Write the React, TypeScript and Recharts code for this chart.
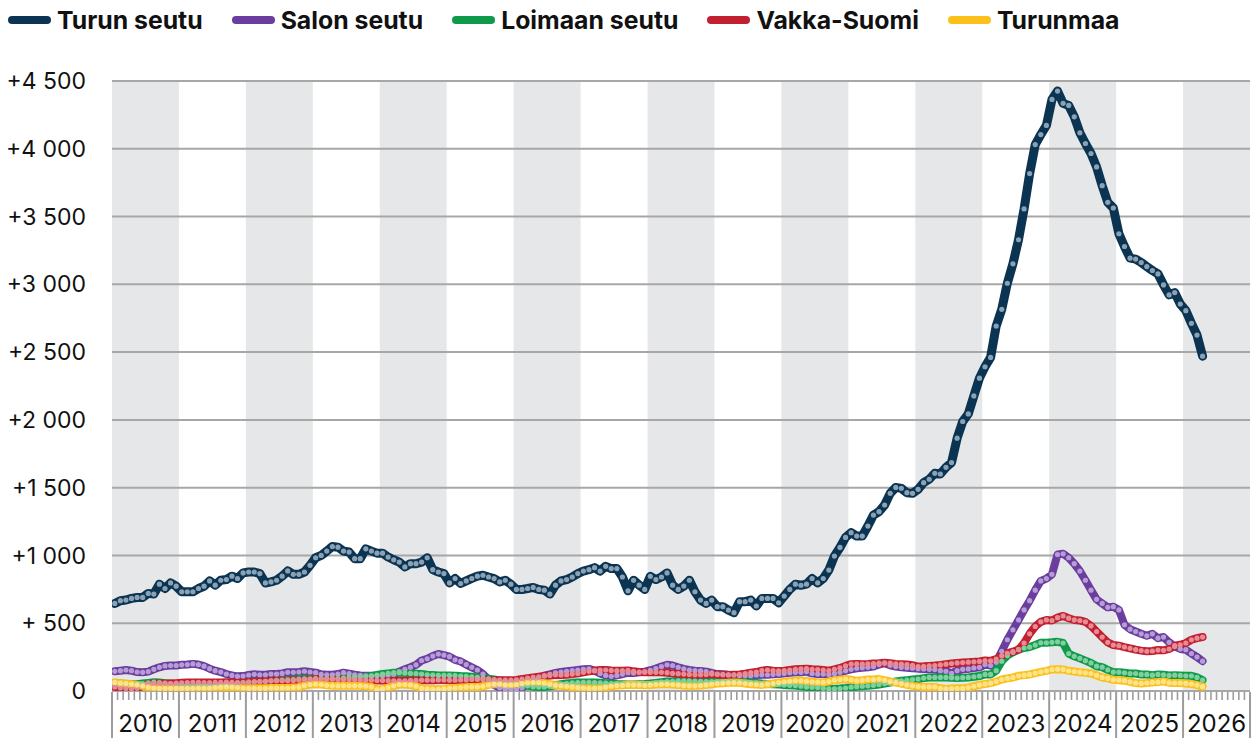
import { LineChart, Line, XAxis, YAxis, ReferenceArea, ReferenceLine } from "recharts";

// monthly values, Jan 2010 – Apr 2026
const turunSeutu = [
  646, 666, 671, 683, 690, 690, 720, 715, 788, 756, 797, 773,
  732, 732, 732, 756, 773, 812, 781, 817, 822, 847, 830, 871,
  878, 878, 866, 797, 805, 817, 847, 886, 861, 861, 878, 927,
  983, 1000, 1032, 1066, 1061, 1032, 1025, 976, 976, 1049, 1032, 1017,
  1017, 988, 968, 951, 915, 939, 939, 951, 983, 895, 878, 866,
  797, 830, 793, 812, 830, 847, 854, 841, 829, 805, 817, 788,
  749, 749, 756, 764, 749, 744, 715, 781, 812, 822, 841, 866,
  885, 895, 910, 885, 920, 903, 903, 841, 739, 817, 781, 749,
  846, 822, 841, 871, 781, 749, 774, 817, 732, 671, 646, 671,
  622, 622, 597, 578, 659, 659, 671, 627, 683, 683, 683, 651,
  700, 749, 788, 780, 788, 830, 798, 830, 892, 995, 1059, 1133,
  1168, 1143, 1143, 1217, 1298, 1323, 1372, 1458, 1502, 1495, 1463, 1458,
  1488, 1537, 1562, 1606, 1601, 1650, 1685, 1865, 1988, 2044, 2177, 2308,
  2392, 2461, 2692, 2816, 3008, 3151, 3329, 3556, 3817, 4031, 4105, 4172,
  4364, 4426, 4335, 4320, 4236, 4118, 4039, 3965, 3866, 3728, 3605, 3563,
  3373, 3279, 3193, 3186, 3161, 3131, 3102, 3077, 2996, 2922, 2939, 2855,
  2806, 2712, 2626, 2470,
];

const salonSeutu = [
  145, 150, 155, 150, 140, 138, 143, 160, 175, 185, 188, 188,
  193, 195, 200, 195, 183, 165, 150, 140, 125, 115, 108, 110,
  118, 123, 120, 120, 125, 125, 130, 138, 138, 140, 145, 140,
  135, 123, 120, 120, 125, 135, 128, 120, 115, 112, 112, 112,
  112, 118, 123, 143, 160, 175, 193, 225, 238, 258, 273, 265,
  253, 230, 218, 195, 175, 155, 125, 85, 45, 23, 13, 8,
  13, 23, 50, 75, 95, 113, 123, 133, 140, 145, 150, 155,
  160, 163, 150, 130, 115, 108, 115, 125, 135, 133, 138, 143,
  153, 165, 180, 193, 188, 175, 163, 155, 150, 148, 143, 133,
  125, 123, 120, 118, 113, 113, 113, 118, 120, 120, 123, 125,
  130, 135, 138, 138, 143, 130, 125, 125, 122, 130, 138, 150,
  160, 168, 172, 175, 180, 195, 205, 190, 180, 175, 172, 168,
  165, 163, 160, 158, 150, 145, 130, 150, 160, 163, 170, 175,
  195, 188, 212, 293, 378, 451, 524, 598, 666, 744, 812, 829,
  861, 1007, 1012, 983, 939, 885, 817, 744, 676, 646, 617, 622,
  598, 488, 456, 439, 422, 407, 422, 390, 398, 359, 329, 310,
  305, 276, 251, 220,
];

const loimaanSeutu = [
  55, 55, 52, 50, 50, 55, 60, 65, 62, 58, 55, 50,
  45, 40, 38, 38, 40, 42, 45, 48, 50, 55, 58, 62,
  65, 68, 70, 72, 75, 78, 80, 82, 85, 88, 90, 90,
  92, 92, 90, 90, 92, 95, 98, 100, 102, 105, 110, 118,
  125, 130, 135, 135, 132, 130, 128, 125, 120, 118, 115, 115,
  115, 113, 110, 108, 105, 100, 95, 90, 85, 78, 70, 62,
  55, 45, 38, 32, 30, 30, 35, 42, 50, 55, 60, 62,
  63, 63, 62, 60, 58, 55, 52, 50, 48, 48, 50, 52,
  55, 60, 65, 70, 72, 75, 75, 75, 73, 72, 70, 70,
  70, 72, 72, 70, 68, 65, 62, 60, 55, 52, 50, 48,
  45, 42, 40, 35, 30, 28, 25, 20, 15, 15, 18, 22,
  28, 32, 35, 38, 42, 48, 55, 62, 70, 75, 80, 85,
  88, 95, 100, 100, 100, 100, 98, 95, 98, 100, 105, 110,
  122, 122, 150, 220, 261, 285, 305, 317, 324, 339, 356, 356,
  359, 363, 354, 276, 256, 241, 224, 207, 183, 176, 156, 139,
  139, 134, 129, 129, 122, 122, 117, 122, 120, 115, 117, 115,
  112, 112, 100, 80,
];

const vakkaSuomi = [
  30, 22, 18, 15, 20, 40, 50, 55, 55, 55, 55, 58,
  60, 62, 63, 63, 62, 62, 63, 63, 65, 63, 62, 62,
  65, 68, 70, 72, 75, 75, 75, 75, 78, 80, 82, 85,
  88, 88, 88, 88, 85, 85, 83, 83, 82, 80, 80, 78,
  78, 76, 75, 75, 75, 78, 78, 80, 80, 80, 82, 82,
  80, 80, 82, 82, 85, 85, 85, 82, 80, 80, 80, 80,
  82, 88, 95, 100, 105, 110, 115, 120, 118, 120, 125, 130,
  138, 145, 150, 155, 155, 152, 150, 150, 152, 145, 140, 138,
  138, 138, 138, 135, 130, 128, 125, 122, 120, 120, 122, 125,
  122, 120, 118, 120, 122, 128, 135, 140, 150, 155, 150, 148,
  150, 155, 160, 163, 165, 160, 158, 155, 150, 160, 170, 185,
  198, 200, 198, 200, 203, 205, 208, 205, 200, 198, 195, 190,
  180, 182, 185, 188, 192, 198, 203, 207, 210, 213, 215, 218,
  225, 222, 235, 260, 278, 290, 305, 354, 422, 476, 510, 524,
  520, 541, 554, 537, 524, 520, 510, 480, 439, 398, 359, 339,
  334, 324, 315, 305, 298, 293, 295, 302, 300, 310, 334, 341,
  354, 378, 390, 398,
];

const turunmaa = [
  63, 58, 55, 50, 45, 38, 28, 22, 20, 20, 20, 20,
  20, 20, 20, 22, 22, 22, 25, 28, 30, 28, 25, 22,
  20, 20, 20, 20, 22, 22, 22, 22, 25, 28, 40, 48,
  50, 48, 42, 38, 38, 38, 38, 38, 38, 35, 30, 10,
  15, 25, 38, 48, 48, 45, 35, 20, 15, 13, 13, 15,
  20, 22, 25, 28, 30, 30, 35, 45, 50, 50, 45, 45,
  48, 55, 60, 62, 62, 58, 50, 42, 38, 35, 30, 25,
  22, 20, 20, 22, 28, 35, 40, 42, 45, 45, 45, 42,
  45, 48, 50, 50, 48, 45, 40, 38, 38, 40, 45, 50,
  55, 58, 60, 62, 60, 55, 50, 48, 45, 50, 55, 62,
  68, 72, 75, 75, 72, 68, 65, 63, 70, 80, 85, 88,
  83, 75, 80, 85, 85, 88, 80, 70, 63, 55, 45, 38,
  33, 30, 30, 30, 20, 15, 18, 20, 20, 25, 35, 45,
  52, 58, 70, 85, 93, 100, 112, 117, 122, 132, 141, 149,
  159, 161, 159, 149, 144, 139, 134, 129, 115, 100, 93, 83,
  80, 76, 68, 59, 56, 59, 63, 66, 71, 61, 59, 59,
  56, 51, 44, 32,
];

const years = [2010, 2011, 2012, 2013, 2014, 2015, 2016, 2017, 2018, 2019, 2020, 2021, 2022, 2023, 2024, 2025, 2026];
const yTicks = [0, 500, 1000, 1500, 2000, 2500, 3000, 3500, 4000, 4500];

const SERIES = [
  { key: "turun", name: "Turun seutu", color: "#0b3453", dot: "#8ba2b5", width: 9 },
  { key: "salo", name: "Salon seutu", color: "#6b3d9e", dot: "#b79dd6", width: 8 },
  { key: "loimaa", name: "Loimaan seutu", color: "#0f9a4b", dot: "#80cf9d", width: 8 },
  { key: "vakka", name: "Vakka-Suomi", color: "#c21f30", dot: "#e68c95", width: 8 },
  { key: "turunmaa", name: "Turunmaa", color: "#fbc01a", dot: "#fde48c", width: 8 },
];

const FONT = "Inter, 'Liberation Sans', sans-serif";

const rows = turunSeutu.map((v, i) => ({
  m: i + 0.5,
  turun: v,
  salo: salonSeutu[i],
  loimaa: loimaanSeutu[i],
  vakka: vakkaSuomi[i],
  turunmaa: turunmaa[i],
}));

const monthTicks = Array.from({ length: years.length * 12 + 1 }, (_, i) => i);

function formatY(v: number) {
  if (v === 0) return "0";
  if (v < 1000) return "+ " + v;
  const th = Math.floor(v / 1000);
  const rest = String(v % 1000).padStart(3, "0");
  return `+${th} ${rest}`;
}

function MonthTick(props: any) {
  const { x, y, payload } = props;
  const v = payload.value as number;
  const isYear = v % 12 === 0;
  return (
    <g>
      <line
        x1={x}
        x2={x}
        y1={y + 1}
        y2={isYear ? y + 50 : y + 9}
        stroke="#9c9c9c"
        strokeWidth={isYear ? 2 : 1.6}
      />
      {v % 12 === 6 && (
        <text x={x} y={y + 41} textAnchor="middle" fontSize={24} fill="#111" fontFamily={FONT}>
          {years[(v - 6) / 12]}
        </text>
      )}
    </g>
  );
}

function LegendRow() {
  return (
    <div
      style={{
        position: "absolute",
        left: 8,
        top: 5,
        display: "flex",
        alignItems: "center",
        fontFamily: FONT,
        fontWeight: 700,
        fontSize: 24.8,
        color: "#111",
        whiteSpace: "nowrap",
      }}
    >
      {SERIES.map((s) => (
        <div key={s.key} style={{ display: "flex", alignItems: "center", marginRight: 29 }}>
          <span
            style={{
              display: "inline-block",
              width: 43,
              height: 8,
              borderRadius: 4,
              background: s.color,
              marginRight: 6,
            }}
          />
          <span>{s.name}</span>
        </div>
      ))}
    </div>
  );
}

export default function App() {
  return (
    <div style={{ position: "absolute", left: 0, top: 0, width: 1258, height: 738, background: "#fff" }}>
      <LegendRow />
      <LineChart width={1258} height={738} data={rows} margin={{ top: 81, right: 8, bottom: 0, left: 0 }}>
        {years.map((yr, i) =>
          i % 2 === 0 ? (
            <ReferenceArea
              key={yr}
              x1={i * 12}
              x2={i * 12 + 12}
              y1={0}
              y2={4500}
              fill="#e6e7e9"
              fillOpacity={1}
              stroke="none"
            />
          ) : null
        )}
        {yTicks.map((t) => (
          <ReferenceLine key={t} y={t} stroke="#a7a7a7" strokeWidth={2} />
        ))}
        <XAxis
          type="number"
          dataKey="m"
          domain={[0, years.length * 12]}
          ticks={monthTicks}
          interval={0}
          tick={<MonthTick />}
          tickLine={false}
          axisLine={false}
          tickSize={0}
          tickMargin={0}
          height={47}
          allowDataOverflow
        />
        <YAxis
          domain={[0, 4500]}
          ticks={yTicks}
          tickFormatter={formatY}
          width={112}
          axisLine={false}
          tickLine={false}
          tickSize={0}
          tickMargin={26}
          tick={{ fontSize: 23, fill: "#111", fontFamily: FONT }}
          allowDataOverflow
        />
        {SERIES.map((s) => (
          <Line
            key={s.key}
            type="linear"
            dataKey={s.key}
            name={s.name}
            stroke={s.color}
            strokeWidth={s.width}
            strokeLinejoin="round"
            strokeLinecap="round"
            dot={{ r: 2.6, fill: s.dot, stroke: "none", strokeWidth: 0 }}
            activeDot={false}
            isAnimationActive={false}
          />
        ))}
      </LineChart>
    </div>
  );
}
